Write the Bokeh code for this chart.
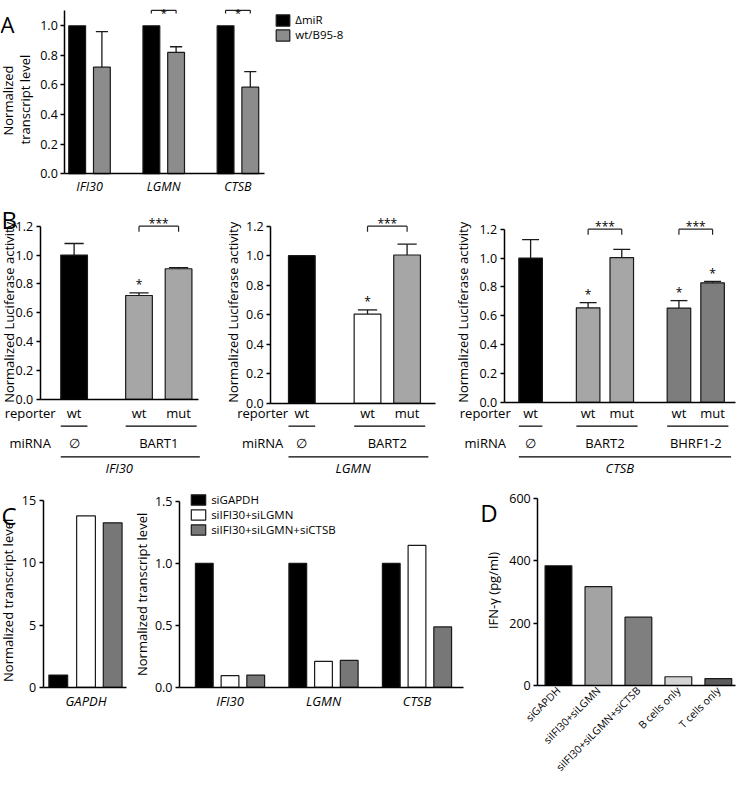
import math
from bokeh.plotting import figure
from bokeh.models import (Range1d, LinearAxis, FixedTicker, PrintfTickFormatter,
                          Legend, LegendItem, ColumnDataSource)
from bokeh.embed import file_html
from bokeh.resources import INLINE
from bokeh.core.properties import value

# ---------------- data ----------------
# Panel A
a_genes = ["IFI30", "LGMN", "CTSB"]
a_series = ["ΔmiR", "wt/B95-8"]
a_dmir = [1.0, 1.0, 1.0]
a_wt = [0.72, 0.82, 0.585]
a_wt_err = [0.24, 0.038, 0.105]
a_sig = ["", "*", "*"]
a_yticks = [0.0, 0.2, 0.4, 0.6, 0.8, 1.0]

# Panel B
b_yticks = [0.0, 0.2, 0.4, 0.6, 0.8, 1.0, 1.2]
b1_gene = "IFI30"
b1_reporter = ["wt", "wt", "mut"]
b1_mirna = [("∅", [0]), ("BART1", [1, 2])]
b1_vals = [1.0, 0.72, 0.905]
b1_err = [0.08, 0.018, 0.008]
b1_star = ["", "*", ""]
b1_brackets = [(1, 2, "***")]

b2_gene = "LGMN"
b2_reporter = ["wt", "wt", "mut"]
b2_mirna = [("∅", [0]), ("BART2", [1, 2])]
b2_vals = [1.0, 0.605, 1.005]
b2_err = [0.0, 0.028, 0.073]
b2_star = ["", "*", ""]
b2_brackets = [(1, 2, "***")]

b3_gene = "CTSB"
b3_reporter = ["wt", "wt", "mut", "wt", "mut"]
b3_mirna = [("∅", [0]), ("BART2", [1, 2]), ("BHRF1-2", [3, 4])]
b3_vals = [1.0, 0.655, 1.003, 0.653, 0.828]
b3_err = [0.127, 0.036, 0.057, 0.052, 0.01]
b3_star = ["", "*", "", "*", "*"]
b3_brackets = [(1, 2, "***"), (3, 4, "***")]

# Panel C
c_series = ["siGAPDH", "siIFI30+siLGMN", "siIFI30+siLGMN+siCTSB"]
c1_gene = "GAPDH"
c1_vals = [1.0, 13.75, 13.2]
c1_yticks = [0, 5, 10, 15]
c2_genes = ["IFI30", "LGMN", "CTSB"]
c2_sigapdh = [1.0, 1.0, 1.0]
c2_si2 = [0.095, 0.21, 1.145]
c2_si3 = [0.10, 0.218, 0.488]
c2_yticks = [0.0, 0.5, 1.0, 1.5]

# Panel D
d_labels = ["siGAPDH", "siIFI30+siLGMN", "siIFI30+siLGMN+siCTSB", "B cells only", "T cells only"]
d_ifng = [384, 317, 219, 28, 22]
d_yticks = [0, 200, 400, 600]

# ---------------- layout ----------------
FONT = "Open Sans"
W, H = 738, 781
SX, SY = W / 746.0, H / 789.0
TICK = "12.5px"
TXT = "13px"


def PX(x):
    return x * SX


def PY(y):
    return y * SY


def xr(v0, p0, v1, p1):
    l0, l1 = p0 * SX, p1 * SX
    k = (v1 - v0) / (l1 - l0)
    return Range1d(start=v0 - l0 * k, end=v0 + (W - l0) * k)


def yr(v0, p0, v1, p1):
    l0, l1 = p0 * SY, p1 * SY
    k = (v1 - v0) / (l1 - l0)
    top = v0 - l0 * k
    bottom = v0 + (H - l0) * k
    return Range1d(start=bottom, end=top)


p = figure(width=W, height=H, x_range=Range1d(0, W), y_range=Range1d(H, 0),
           output_backend="svg", toolbar_location=None,
           x_axis_type=None, y_axis_type=None, outline_line_color=None,
           min_border=0, min_border_left=0, min_border_right=0,
           min_border_top=0, min_border_bottom=0)
p.background_fill_color = "white"
p.border_fill_color = "white"

p.extra_x_ranges = {
    "ax": xr(0, 90, 1, 165),
    "b1x": xr(0, 40, 1, 80),
    "b2x": xr(0, 273, 1, 313),
    "b3x": xr(0, 509, 1, 543),
    "c1x": xr(0, 43, 1, 70.5),
    "c2x": xr(0, 232, 1, 326.5),
    "dx": xr(0, 543, 1, 583.4),
}
p.extra_y_ranges = {
    "ay": yr(0, 175, 1, 25.5),
    "b1y": yr(0, 403, 1.2, 228),
    "b2y": yr(0, 407, 1.2, 228),
    "b3y": yr(0, 406, 1.2, 231),
    "c1y": yr(0, 694, 15, 505),
    "c2y": yr(0, 694, 1.5, 506),
    "dy": yr(0, 692, 600, 503),
}

EDGE = "#1a1a1a"


def txt(x, y, s, xn="default", yn="default", size=TXT, align="center",
        baseline="middle", angle=0.0, style="normal", y_off=0):
    src = ColumnDataSource(dict(x=list(x), y=list(y), t=list(s)))
    p.text(x="x", y="y", text="t", source=src, x_range_name=xn, y_range_name=yn,
           text_font=value(FONT), text_font_size=size, text_align=align,
           text_baseline=baseline, angle=angle, text_font_style=style,
           text_color="black", y_offset=y_off)


def add_yaxis(xn, yn, xloc, ticks, top, fmt, size=TICK):
    ax = LinearAxis(x_range_name=xn, y_range_name=yn, fixed_location=xloc,
                    bounds=(ticks[0], top), ticker=FixedTicker(ticks=ticks),
                    formatter=PrintfTickFormatter(format=fmt))
    ax.axis_line_width = 1.5
    ax.axis_line_color = "black"
    ax.major_tick_line_width = 1.5
    ax.major_tick_out = 4
    ax.major_tick_in = 0
    ax.minor_tick_line_color = None
    ax.major_label_text_font = FONT
    ax.major_label_text_font_size = size
    ax.major_label_text_color = "black"
    ax.major_label_standoff = 3
    p.add_layout(ax, "left")


def add_xaxis(xn, yn, x0, x1, ticks=(), labels=None, italic=False, orient="horizontal",
              size=TXT, standoff=5):
    ax = LinearAxis(x_range_name=xn, y_range_name=yn, fixed_location=0,
                    bounds=(x0, x1), ticker=FixedTicker(ticks=list(ticks)))
    if labels:
        ax.major_label_overrides = {t: l for t, l in zip(ticks, labels)}
    ax.axis_line_width = 1.5
    ax.axis_line_color = "black"
    ax.major_tick_line_color = None
    ax.major_tick_out = 0
    ax.major_tick_in = 0
    ax.minor_tick_line_color = None
    ax.major_label_standoff = standoff
    ax.major_label_text_font = FONT
    ax.major_label_text_font_size = size
    ax.major_label_text_color = "black"
    ax.major_label_orientation = orient
    if italic:
        ax.major_label_text_font_style = "italic"
    p.add_layout(ax, "below")


def bars(xn, yn, xs, tops, w, colors):
    src = ColumnDataSource(dict(x=list(xs), top=list(tops), c=list(colors)))
    return p.vbar(x="x", top="top", bottom=0, width=w, fill_color="c", line_color=EDGE,
                  line_width=1.2, source=src, x_range_name=xn, y_range_name=yn)


def errbars(xn, yn, xs, vals, errs, w):
    xs2 = [x for x, e in zip(xs, errs) if e > 0]
    v2 = [v for v, e in zip(vals, errs) if e > 0]
    t2 = [v + e for v, e in zip(vals, errs) if e > 0]
    cw = 0.72 * w
    p.segment(x0=xs2, y0=v2, x1=xs2, y1=t2, line_color=EDGE, line_width=1.3,
              x_range_name=xn, y_range_name=yn)
    p.segment(x0=[x - cw / 2 for x in xs2], y0=t2, x1=[x + cw / 2 for x in xs2], y1=t2,
              line_color=EDGE, line_width=1.3, x_range_name=xn, y_range_name=yn)


def bracket(xn, yn, xa, xb, level, tick, label, size="12px", y_off=-3):
    p.segment(x0=[xa, xa, xb], y0=[level, level, level], x1=[xb, xa, xb],
              y1=[level, level - tick, level - tick], line_color="#222222", line_width=1.2,
              x_range_name=xn, y_range_name=yn)
    txt([(xa + xb) / 2], [level], [label], xn=xn, yn=yn, size=size,
        baseline="alphabetic", y_off=y_off)


# ---------------- panel letters ----------------
txt([PX(0)], [23.5], ["A"], size="22px", align="left", baseline="alphabetic")
txt([PX(1), PX(1), PX(485)], [PY(221), PY(520), PY(517)],
    ["B", "C", "D"], size="24px", align="left", baseline="alphabetic")

# ---------------- Panel A ----------------
aw = 17 / 75.0
a_xb = [i - 1 / 6.0 for i in range(len(a_genes))]
a_xg = [i + 1 / 6.0 for i in range(len(a_genes))]
ra1 = bars("ax", "ay", a_xb, a_dmir, aw, ["black"] * 3)
ra2 = bars("ax", "ay", a_xg, a_wt, aw, ["#8c8c8c"] * 3)
errbars("ax", "ay", a_xg, a_wt, a_wt_err, aw)
for i, s in enumerate(a_sig):
    if s:
        bracket("ax", "ay", a_xb[i], a_xg[i], 1.104, 0.022, s, size="11px", y_off=2.5)
add_yaxis("ax", "ay", -1 / 3.0, a_yticks, 1.1, "%.1f", size="12.5px")
add_xaxis("ax", "ay", -1 / 3.0, 2.36, ticks=list(range(len(a_genes))), labels=a_genes,
          italic=True, size="12.5px", standoff=4)
txt([PX(8)], [PY(101)], ["Normalized"], size="13px", angle=math.pi / 2)
txt([PX(25)], [PY(100)], ["transcript level"], size="13px", angle=math.pi / 2)
leg_a = Legend(items=[LegendItem(label=a_series[0], renderers=[ra1]),
                      LegendItem(label=a_series[1], renderers=[ra2])],
               location=(PX(277.3), H - (PY(12.5) + 30)))


def style_legend(lg, gw, gh):
    lg.glyph_width = gw
    lg.glyph_height = gh
    lg.label_height = 15
    lg.label_standoff = 4
    lg.spacing = 0
    lg.padding = 0
    lg.margin = 0
    lg.border_line_color = None
    lg.background_fill_alpha = 0
    lg.label_text_font = FONT
    lg.label_text_font_size = "11.5px"
    lg.label_text_color = "black"


style_legend(leg_a, 17, 14)
p.add_layout(leg_a)


# ---------------- Panel B ----------------
def b_panel(xn, yn, pos, w, xend, vals, err, star, reporter, mirna, gene, brackets,
            colors, lab_x, ylab_x):
    bars(xn, yn, pos, vals, w, colors)
    errbars(xn, yn, pos, vals, err, w)
    sx = [x for x, s in zip(pos, star) if s]
    sy = [v + e for v, e, s in zip(vals, err, star) if s]
    txt(sx, sy, [s for s in star if s], xn=xn, yn=yn, size="12px",
        baseline="alphabetic", y_off=-8)
    for i, j, lab in brackets:
        bracket(xn, yn, pos[i], pos[j], 1.2, 0.038, lab, size="12px", y_off=-3)
    add_yaxis(xn, yn, 0, b_yticks, 1.2, "%.1f")
    add_xaxis(xn, yn, 0, xend)
    # reporter row
    txt(pos, [PY(417)] * len(pos), reporter, xn=xn)
    # group lines and miRNA labels
    gx0, gx1, gxc, glab = [], [], [], []
    for lab, idx in mirna:
        a = pos[idx[0]] - w / 2
        b = pos[idx[-1]] + w / 2 + (0.12 if len(idx) > 1 else 0)
        gx0.append(a)
        gx1.append(b)
        gxc.append(sum(pos[k] for k in idx) / len(idx))
        glab.append(lab)
    p.segment(x0=gx0, y0=[PY(430)] * len(gx0), x1=gx1, y1=[PY(430)] * len(gx0),
              line_color="black", line_width=1.2, x_range_name=xn)
    txt(gxc, [PY(447)] * len(gxc), glab, xn=xn)
    p.segment(x0=[pos[0] - w / 2], y0=[PY(461)], x1=[pos[-1] + w / 2 + 0.2], y1=[PY(461)],
              line_color="black", line_width=1.2, x_range_name=xn)
    txt([xend / 2.0], [PY(472)], [gene], xn=xn, style="italic")
    txt([PX(lab_x), PX(lab_x)], [PY(417), PY(447)], ["reporter", "miRNA"])
    txt([PX(ylab_x)], [PY(315)], ["Normalized Luciferase activity"], size="13px",
        angle=math.pi / 2)


LG = "#a6a6a6"
DG = "#7d7d7d"
b_panel("b1x", "b1y", [0.86, 2.5, 3.5], 0.675, 4.0, b1_vals, b1_err, b1_star,
        b1_reporter, b1_mirna, b1_gene, b1_brackets, ["black", LG, LG], 30, 9)
b_panel("b2x", "b2y", [0.79, 2.45, 3.45], 0.675, 4.17, b2_vals, b2_err, b2_star,
        b2_reporter, b2_mirna, b2_gene, b2_brackets, ["black", "white", LG], 265, 235)
b_panel("b3x", "b3y", [0.79, 2.5, 3.5, 5.2, 6.2], 0.7, 6.88, b3_vals, b3_err, b3_star,
        b3_reporter, b3_mirna, b3_gene, b3_brackets, ["black", LG, LG, DG, DG], 490, 468)

# ---------------- Panel C ----------------
c_colors = ["black", "white", "#777777"]
c1_pos = [0.56, 1.58, 2.56]
bars("c1x", "c1y", c1_pos, c1_vals, 0.69, c_colors)
add_yaxis("c1x", "c1y", 0, c1_yticks, 15, "%d")
add_xaxis("c1x", "c1y", 0, 3.05, ticks=[c1_pos[1]], labels=[c1_gene], italic=True)
txt([PX(8)], [PY(606)], ["Normalized transcript level"], size="13px", angle=math.pi / 2)

c2_off = [-0.275, 0.0, 0.275]
rc = []
for k, (vals, col) in enumerate(zip([c2_sigapdh, c2_si2, c2_si3], c_colors)):
    xs = [i + c2_off[k] for i in range(len(c2_genes))]
    rc.append(bars("c2x", "c2y", xs, vals, 0.19, [col] * len(xs)))
add_yaxis("c2x", "c2y", -0.54, c2_yticks, 1.5, "%.1f")
add_xaxis("c2x", "c2y", -0.54, 2.5, ticks=list(range(len(c2_genes))), labels=c2_genes,
          italic=True)
txt([PX(143)], [PY(600)], ["Normalized transcript level"], size="13px", angle=math.pi / 2)
leg_c = Legend(items=[LegendItem(label=c_series[k], renderers=[rc[k]]) for k in range(3)],
               location=(PX(191.2), H - (PY(497.5) + 45)))
style_legend(leg_c, 18, 13)
p.add_layout(leg_c)

# ---------------- Panel D ----------------
d_pos = [i + 0.52 for i in range(len(d_labels))]
bars("dx", "dy", d_pos, d_ifng, 0.67, ["black", "#a3a3a3", "#7f7f7f", "#d4d4d4", "#5c5c5c"])
add_yaxis("dx", "dy", 0, d_yticks, 600, "%d")
add_xaxis("dx", "dy", 0, 4.95, ticks=d_pos, labels=d_labels, orient=math.pi / 4,
          size="10.5px", standoff=3)
txt([PX(498)], [PY(596)], ["IFN-γ (pg/ml)"], size="13px", angle=math.pi / 2)

open("out.html", "w").write(file_html(p, INLINE))
